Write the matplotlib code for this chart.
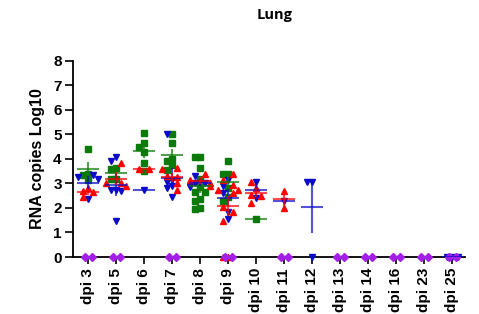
import matplotlib
matplotlib.use("Agg")
import matplotlib.pyplot as plt
import numpy as np

# x categories
days = ["dpi 3", "dpi 5", "dpi 6", "dpi 7", "dpi 8", "dpi 9", "dpi 10", "dpi 11",
        "dpi 12", "dpi 13", "dpi 14", "dpi 16", "dpi 23", "dpi 25"]

# log10 RNA copies per group, one list per day
green_vals = [[4.4, 3.4, 3.35, 3.15], [3.65, 3.6, 3.2, 3.2],
              [5.05, 4.65, 4.5, 4.3, 3.85, 3.5], [5.0, 4.65, 4.0, 3.9, 3.75, 3.55],
              [4.1, 4.1, 3.65, 3.2, 2.85, 2.65, 2.65, 2.35, 2.3, 2.0, 1.95],
              [3.9, 3.4, 3.4, 2.8, 2.45, 2.3], [1.55], [], [], [], [], [], [], []]
blue_vals = [[3.35, 3.25, 3.2, 2.35], [4.1, 3.9, 2.75, 2.75, 2.7, 1.45], [2.75],
             [5.0, 3.15, 3.05, 2.9, 2.8, 2.45], [3.3, 3.0, 3.0, 2.85],
             [3.15, 2.9, 2.6, 1.85, 1.55], [3.05, 2.4], [2.3], [3.05, 3.05, 0],
             [], [], [], [], [0, 0, 0]]
red_vals = [[2.8, 2.7, 2.65, 2.45], [3.85, 3.0, 3.0, 2.9], [3.6, 3.6],
            [3.65, 3.6, 3.3, 3.25, 3.0, 2.75], [3.4, 3.15, 3.0, 2.9],
            [3.4, 3.15, 2.95, 2.75, 2.75, 2.6, 2.05, 1.85, 1.45, 0, 0],
            [3.05, 2.8, 2.55, 2.5, 2.2], [2.7, 2.0], [], [], [], [], [], []]
purple_vals = [[0, 0], [0, 0], [], [0, 0], [], [0, 0], [], [0, 0], [],
               [0, 0], [0, 0], [0, 0], [0, 0], [0, 0]]

groups = [
    ("green", "#0b7a0b", "s", 4.6, green_vals),
    ("blue", "#0a0ac8", "v", 5.0, blue_vals),
    ("red", "#ff0000", "^", 5.0, red_vals),
    ("purple", "#a31ee6", "D", 4.0, purple_vals),
]

plt.rcParams['font.family'] = ['Liberation Sans', 'DejaVu Sans']
plt.rcParams['font.weight'] = 'bold'

fig = plt.figure(figsize=(4.79, 3.14), dpi=100)
ax = fig.add_axes([0.152, 0.1815, 0.819, 0.6245])


def swarm(vals, placed):
    """simple beeswarm offsets so markers don't overlap"""
    offs = []
    cands = [0, -0.18, 0.18, -0.09, 0.09, -0.27, 0.27, -0.36, 0.36]
    for v in vals:
        for c in cands:
            if all(abs(c - px) > 0.17 or abs(v - py) > 0.22 for px, py in placed):
                break
        placed.append((c, v))
        offs.append(c)
    return offs


for i in range(len(days)):
    placed = []
    for name, col, mk, ms, data in groups:
        vals = data[i]
        if not vals:
            continue
        if name == "purple":
            n = len(vals)
            offs = list((np.arange(n) - (n - 1) / 2) * 0.26)
        else:
            offs = swarm(vals, placed)
        ax.plot(i + np.array(offs), vals, linestyle="none", marker=mk, ms=ms,
                color=col, clip_on=False, zorder=3)
        if name == "purple":
            continue
        m = np.mean(vals)
        ax.plot([i - 0.36, i + 0.36], [m, m], color=col, lw=1.5, alpha=0.7, zorder=4)
        if len(vals) > 1:
            sem = np.std(vals, ddof=1) / np.sqrt(len(vals))
            ax.plot([i, i], [m - sem, m + sem], color=col, lw=1.5, alpha=0.7, zorder=4)

ax.set_xlim(-0.55, 13.45)
ax.set_ylim(0, 8)
ax.set_yticks(range(0, 9))
ax.set_xticks(range(len(days)))
ax.set_xticklabels(days, rotation=90, fontsize=11, fontweight="bold")
ax.tick_params(axis="y", labelsize=11, length=6, width=1.2, pad=2)
ax.tick_params(axis="x", length=5, width=1.2, pad=3)
for lab in ax.get_yticklabels():
    lab.set_fontweight("bold")
ax.spines["top"].set_visible(False)
ax.spines["right"].set_visible(False)
ax.spines["left"].set_linewidth(1.3)
ax.spines["bottom"].set_linewidth(1.3)
ax.set_ylabel("RNA copies Log10", fontsize=11.5, fontweight="bold", labelpad=6)

fig.text(0.573, 0.952, "Lung", ha="center", va="center", fontsize=10.5,
         fontweight="bold", family=["Open Sans", "DejaVu Sans"])

fig.savefig("out.png", dpi=100)
